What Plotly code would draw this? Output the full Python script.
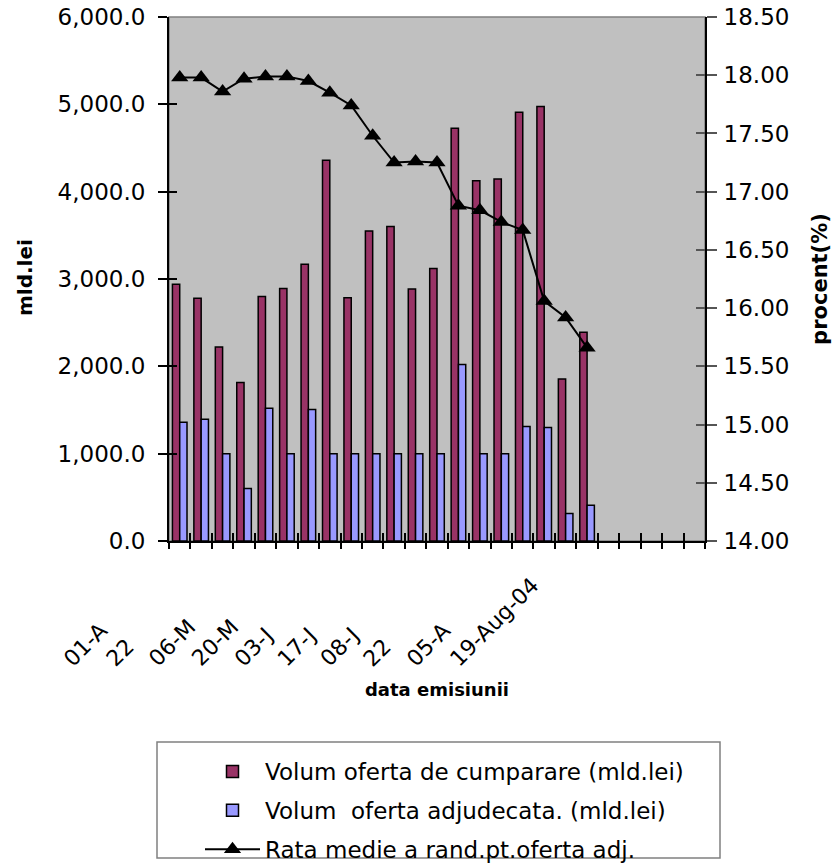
import plotly.graph_objects as go

# ---- data ----
n_slots = 25  # category slots on the axis (last five are empty)
volum_cumparare = [2940, 2780, 2220, 1815, 2800, 2890, 3170, 4360, 2785, 3550,
                   3600, 2885, 3120, 4725, 4125, 4145, 4910, 4975, 1855, 2390]
volum_adjudecat = [1360, 1395, 1000, 600, 1520, 1000, 1505, 1000, 1000, 1000,
                   1000, 1000, 1000, 2020, 1000, 1000, 1310, 1300, 315, 410]
rata_medie = [17.98, 17.98, 17.86, 17.97, 17.99, 17.99, 17.95, 17.85, 17.74, 17.48,
              17.25, 17.26, 17.25, 16.88, 16.84, 16.74, 16.67, 16.06, 15.92, 15.66]
tick_labels = ["01-A", "22", "06-M", "20-M", "03-J", "17-J", "08-J", "22", "05-A", "19-Aug-04"]

names = ["Volum oferta de cumparare (mld.lei)",
         "Volum  oferta adjudecata. (mld.lei)",
         "Rata medie a rand.pt.oferta adj."]

x_pos = [i + 0.5 for i in range(len(volum_cumparare))]
tick_pos = [2 * k + 0.5 for k in range(len(tick_labels))]

FONT = "DejaVu Sans"
W, H = 836, 868
PL, PR, PT, PB = 169, 705, 17, 541  # plot box in px
PW, PH = PR - PL, PB - PT


def px_x(x):  # px -> paper x
    return (x - PL) / PW


def px_y(y):  # px -> paper y
    return (PB - y) / PH


fig = go.Figure()
fig.add_trace(go.Bar(x=x_pos, y=volum_cumparare, name=names[0],
                     marker=dict(color="#993366", line=dict(color="black", width=1.5)),
                     legendgroup="a"))
fig.add_trace(go.Bar(x=x_pos, y=volum_adjudecat, name=names[1],
                     marker=dict(color="#9999FF", line=dict(color="black", width=1.5)),
                     legendgroup="b"))
fig.add_trace(go.Scatter(x=x_pos, y=rata_medie, name=names[2], yaxis="y2",
                         mode="lines+markers",
                         line=dict(color="black", width=2),
                         marker=dict(symbol="triangle-up", size=15, color="black"),
                         legendgroup="c"))
# empty helper traces so the overlay axes (inside tick marks) are drawn
fig.add_trace(go.Scatter(x=[], y=[], xaxis="x2", yaxis="y3", showlegend=False, hoverinfo="skip"))
fig.add_trace(go.Scatter(x=[], y=[], xaxis="x3", yaxis="y4", showlegend=False, hoverinfo="skip"))

# rotated category labels (Excel style, text starting below-left of the slot)
annotations = []
for pos, lab in zip(tick_pos, tick_labels):
    annotations.append(dict(x=pos, xref="x", y=px_y(674), yref="paper",
                            text=lab, showarrow=False, textangle=-45,
                            xanchor="left", yanchor="bottom", xshift=-124,
                            font=dict(family=FONT, size=22, color="black")))
# left axis title
annotations.append(dict(x=px_x(25), y=px_y(278), xref="paper", yref="paper",
                        text="<b>mld.lei</b>", showarrow=False, textangle=-90,
                        xanchor="center", yanchor="middle",
                        font=dict(family=FONT, size=20, color="black")))

noline = dict(showgrid=False, zeroline=False, automargin=False)

fig.update_layout(
    width=W, height=H,
    margin=dict(l=PL, r=W - PR, t=PT, b=H - PB, autoexpand=False),
    paper_bgcolor="white", plot_bgcolor="#C0C0C0",
    barmode="group", bargap=0.32, bargroupgap=0,
    font=dict(family=FONT, size=21, color="black"),
    showlegend=True,
    legend=dict(xref="container", yref="container",
                x=200 / W, y=1 - 750 / H, xanchor="left", yanchor="top",
                bgcolor="rgba(0,0,0,0)", borderwidth=0,
                font=dict(family=FONT, size=23),
                tracegroupgap=6, itemwidth=55),
    xaxis=dict(range=[0, n_slots], tickmode="array", tickvals=tick_pos,
               showticklabels=False, ticks="",
               showline=True, linecolor="black", linewidth=2,
               title=dict(text="<b>data emisiunii</b>", standoff=141,
                          font=dict(family=FONT, size=18)), **noline),
    xaxis2=dict(range=[0, n_slots], overlaying="x", anchor="y", side="bottom",
                tickmode="array", tickvals=list(range(n_slots + 1)),
                ticks="outside", ticklen=7, tickwidth=1.5, tickcolor="black",
                showticklabels=False, showline=False, **noline),
    xaxis3=dict(range=[0, n_slots], overlaying="x", anchor="y", side="bottom",
                tickmode="array", tickvals=list(range(n_slots + 1)),
                ticks="inside", ticklen=8, tickwidth=1.5, tickcolor="black",
                showticklabels=False, showline=False, **noline),
    yaxis=dict(range=[0, 6000], dtick=1000, tickformat=",.1f",
               ticks="outside", ticklen=9, tickwidth=1.5, tickcolor="black",
               ticklabelstandoff=8, ticklabeloverflow="allow",
               showline=True, linecolor="black", linewidth=2,
               tickfont=dict(family=FONT, size=23), **noline),
    yaxis2=dict(range=[14, 18.5], dtick=0.5, tickformat=".2f", overlaying="y",
                side="right", anchor="x",
                ticks="outside", ticklen=10, tickwidth=1.5, tickcolor="#555555",
                ticklabelstandoff=2, ticklabeloverflow="allow",
                showline=True, linecolor="black", linewidth=2,
                tickfont=dict(family=FONT, size=23),
                title=dict(text="<b>procent(%)</b>", standoff=24,
                           font=dict(family=FONT, size=21)), **noline),
    yaxis3=dict(range=[0, 6000], dtick=1000, overlaying="y", side="left", anchor="x2",
                ticks="inside", ticklen=8, tickwidth=1.5, tickcolor="black",
                showticklabels=False, showline=False, **noline),
    yaxis4=dict(range=[14, 18.5], dtick=0.5, overlaying="y", side="right", anchor="x3",
                ticks="inside", ticklen=9, tickwidth=1.5, tickcolor="#555555",
                showticklabels=False, showline=False, **noline),
    annotations=annotations,
    shapes=[
        dict(type="rect", xref="paper", yref="paper", x0=0, x1=1, y0=0, y1=1,
             line=dict(color="#808080", width=1.5), layer="below"),
        dict(type="rect", xref="paper", yref="paper",
             x0=px_x(157), x1=px_x(720), y0=px_y(858), y1=px_y(742),
             line=dict(color="#808080", width=1.5), fillcolor="rgba(0,0,0,0)"),
    ],
)

# remove the default page margin so the figure fills the window exactly
fig.write_html("out.html", config={"displayModeBar": False},
               post_script="document.body.style.margin='0';")
